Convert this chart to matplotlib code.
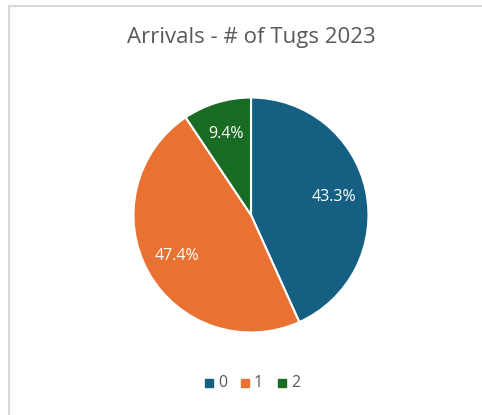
import matplotlib.pyplot as plt
from matplotlib.lines import Line2D
from matplotlib.patches import Rectangle

# Tug counts per arrival, share of arrivals (%)
categories = ['0', '1', '2']
shares = [43.3, 47.4, 9.4]
colors = ['#156082', '#E97132', '#196B24']

W, H = 482, 415
fig = plt.figure(figsize=(W / 100, H / 100), dpi=100)
fig.patch.set_facecolor('white')

# light chart-area frame (left and top edges visible)
fig.add_artist(Line2D([8.5 / W, 8.5 / W], [0, 1 - 6.5 / H], color='#d9d9d9', lw=1.5))
fig.add_artist(Line2D([8.5 / W, 1], [1 - 6.5 / H, 1 - 6.5 / H], color='#d9d9d9', lw=1.5))

# pie axes: center (251, 215), radius ~117 px
r = 117.5
cx, cy = 251, 215
ax = fig.add_axes([(cx - r) / W, 1 - (cy + r) / H, 2 * r / W, 2 * r / H])
wedges, texts, autotexts = ax.pie(
    shares, colors=colors, startangle=90, counterclock=False,
    autopct='%1.1f%%', pctdistance=0.72,
    wedgeprops=dict(edgecolor='white', linewidth=1.5),
    textprops=dict(color='white', fontsize=11.5, family='Open Sans'))
ax.set_xlim(-1, 1)
ax.set_ylim(-1, 1)
ax.set_aspect('equal')

fig.text(251 / W, 1 - 38 / H, 'Arrivals - # of Tugs 2023', ha='center', va='center',
         fontsize=16, color='#595959', family='Open Sans')

# legend row
leg_y = 1 - 383 / H
xs = [209, 245, 282]
for x, c, lab in zip(xs, colors, categories):
    fig.add_artist(Rectangle(((x - 4) / W, leg_y - 4 / H), 8 / W, 8 / H,
                             color=c, transform=fig.transFigure))
    fig.text((x + 9) / W, leg_y, lab, ha='left', va='center', fontsize=11.5,
             color='#595959', family='Open Sans')

fig.savefig('out.png', dpi=100, facecolor='white')
